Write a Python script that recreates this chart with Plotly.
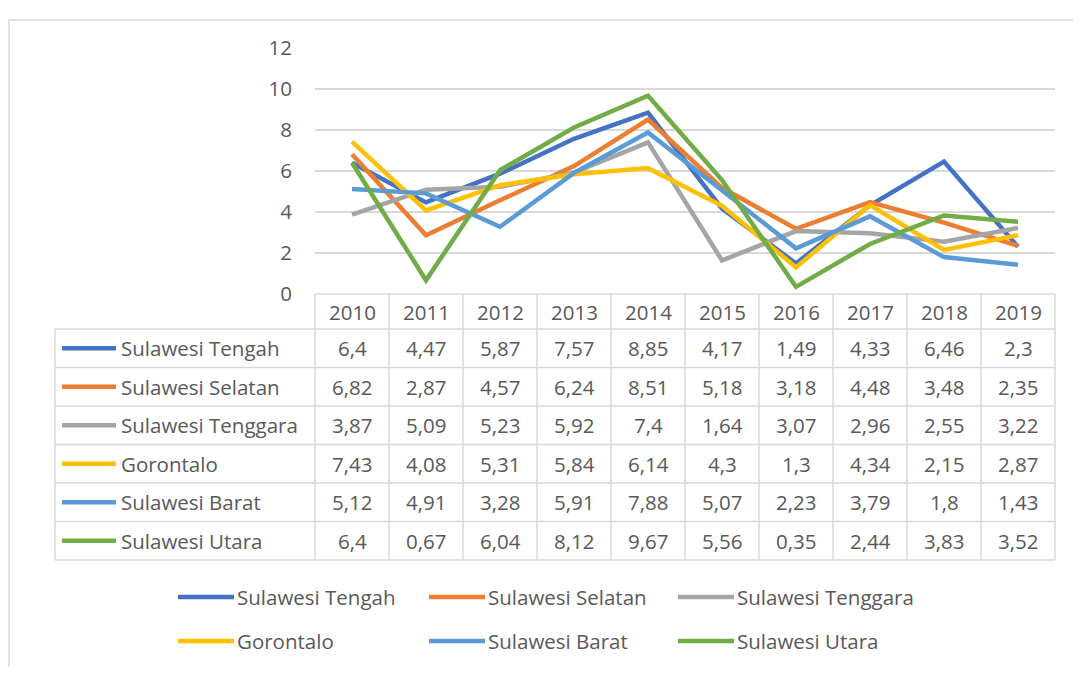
import plotly.graph_objects as go

years = ["2010", "2011", "2012", "2013", "2014", "2015", "2016", "2017", "2018", "2019"]
series_names = ["Sulawesi Tengah", "Sulawesi Selatan", "Sulawesi Tenggara",
                "Gorontalo", "Sulawesi Barat", "Sulawesi Utara"]
tengah = [6.4, 4.47, 5.87, 7.57, 8.85, 4.17, 1.49, 4.33, 6.46, 2.3]
selatan = [6.82, 2.87, 4.57, 6.24, 8.51, 5.18, 3.18, 4.48, 3.48, 2.35]
tenggara = [3.87, 5.09, 5.23, 5.92, 7.4, 1.64, 3.07, 2.96, 2.55, 3.22]
gorontalo = [7.43, 4.08, 5.31, 5.84, 6.14, 4.3, 1.3, 4.34, 2.15, 2.87]
barat = [5.12, 4.91, 3.28, 5.91, 7.88, 5.07, 2.23, 3.79, 1.8, 1.43]
utara = [6.4, 0.67, 6.04, 8.12, 9.67, 5.56, 0.35, 2.44, 3.83, 3.52]
series_values = [tengah, selatan, tenggara, gorontalo, barat, utara]
colors = ["#4472C4", "#ED7D31", "#A5A5A5", "#FFC000", "#5B9BD5", "#70AD47"]
y_ticks = [0, 2, 4, 6, 8, 10, 12]

OFF = 8  # page body margin offset
W, H = 1081 - 2 * OFF, 675 - 2 * OFF  # keep page free of scrollbars
PL, PR, PT, PB = 315, 1055, 48, 294  # plot area in screen pixels
FONT = "Open Sans, sans-serif"
TXT = "#595959"
GRID = "#D9D9D9"
FS = 20.5


def px(x):
    return (x - PL) / (PR - PL)


def py(y):
    return (PB - y) / (PB - PT)


def fmt(v):
    return ("%g" % v).replace(".", ",")


fig = go.Figure()
for name, vals, col in zip(series_names, series_values, colors):
    fig.add_trace(go.Scatter(x=years, y=vals, name=name, mode="lines",
                             line=dict(color=col, width=4.5), showlegend=False))

shapes = []
annotations = []

# chart border (right and bottom edges lie outside the view)
shapes.append(dict(type="rect", xref="paper", yref="paper",
                   x0=px(9), x1=px(1300), y0=py(900), y1=py(20),
                   line=dict(color=GRID, width=1.5), layer="below"))

col_w = (PR - PL) / len(years)
hdr_top, hdr_bot = PB, 329
row_h = (560 - hdr_bot) / len(series_names)
tbl_left = 55
tbl_bottom = hdr_bot + row_h * len(series_names)

shapes.append(dict(type="line", xref="paper", yref="paper", x0=px(PL), x1=px(PR),
                   y0=py(hdr_top), y1=py(hdr_top), line=dict(color=GRID, width=1.5)))
for i in range(len(series_names) + 1):
    yy = hdr_bot + row_h * i
    shapes.append(dict(type="line", xref="paper", yref="paper", x0=px(tbl_left), x1=px(PR),
                       y0=py(yy), y1=py(yy), line=dict(color=GRID, width=1.5)))
for k in range(len(years) + 1):
    xx = PL + col_w * k
    shapes.append(dict(type="line", xref="paper", yref="paper", x0=px(xx), x1=px(xx),
                       y0=py(hdr_top), y1=py(tbl_bottom), line=dict(color=GRID, width=1.5)))
shapes.append(dict(type="line", xref="paper", yref="paper", x0=px(tbl_left), x1=px(tbl_left),
                   y0=py(hdr_bot), y1=py(tbl_bottom), line=dict(color=GRID, width=1.5)))

for k, yr in enumerate(years):
    annotations.append(dict(x=px(PL + col_w * (k + 0.5)), y=py((hdr_top + hdr_bot) / 2),
                            xref="paper", yref="paper", text=yr, showarrow=False,
                            font=dict(family=FONT, size=FS, color=TXT),
                            xanchor="center", yanchor="middle"))

for i, (name, vals, col) in enumerate(zip(series_names, series_values, colors)):
    yc = hdr_bot + row_h * (i + 0.5)
    shapes.append(dict(type="line", xref="paper", yref="paper", x0=px(62), x1=px(116),
                       y0=py(yc), y1=py(yc), line=dict(color=col, width=4.5)))
    annotations.append(dict(x=px(119), y=py(yc), xref="paper", yref="paper", text=name,
                            showarrow=False, font=dict(family=FONT, size=FS, color=TXT),
                            xanchor="left", yanchor="middle"))
    for k, v in enumerate(vals):
        annotations.append(dict(x=px(PL + col_w * (k + 0.5)), y=py(yc), xref="paper", yref="paper",
                                text=fmt(v), showarrow=False,
                                font=dict(family=FONT, size=FS, color=TXT),
                                xanchor="center", yanchor="middle"))

leg_pos = [(178, 597), (429, 597), (678, 597), (178, 641), (429, 641), (678, 641)]
for (lx, ly), name, col in zip(leg_pos, series_names, colors):
    shapes.append(dict(type="line", xref="paper", yref="paper", x0=px(lx), x1=px(lx + 56),
                       y0=py(ly), y1=py(ly), line=dict(color=col, width=4.5)))
    annotations.append(dict(x=px(lx + 57), y=py(ly), xref="paper", yref="paper", text=name,
                            showarrow=False, font=dict(family=FONT, size=FS, color=TXT),
                            xanchor="left", yanchor="middle"))

fig.update_layout(
    width=W, height=H,
    margin=dict(l=PL - OFF, r=W - (PR - OFF), t=PT - OFF, b=H - (PB - OFF), pad=0),
    paper_bgcolor="white", plot_bgcolor="white",
    shapes=shapes, annotations=annotations,
    xaxis=dict(type="category", range=[-0.5, len(years) - 0.5], showticklabels=False,
               showgrid=False, zeroline=False, showline=False, ticks=""),
    yaxis=dict(range=[0, 12], tickvals=y_ticks, showgrid=True, gridcolor=GRID, gridwidth=1.5,
               zeroline=False, showline=False, ticks="", ticklabelstandoff=22,
               tickfont=dict(family=FONT, size=FS, color=TXT)),
    showlegend=False,
)

fig.write_html("out.html")
